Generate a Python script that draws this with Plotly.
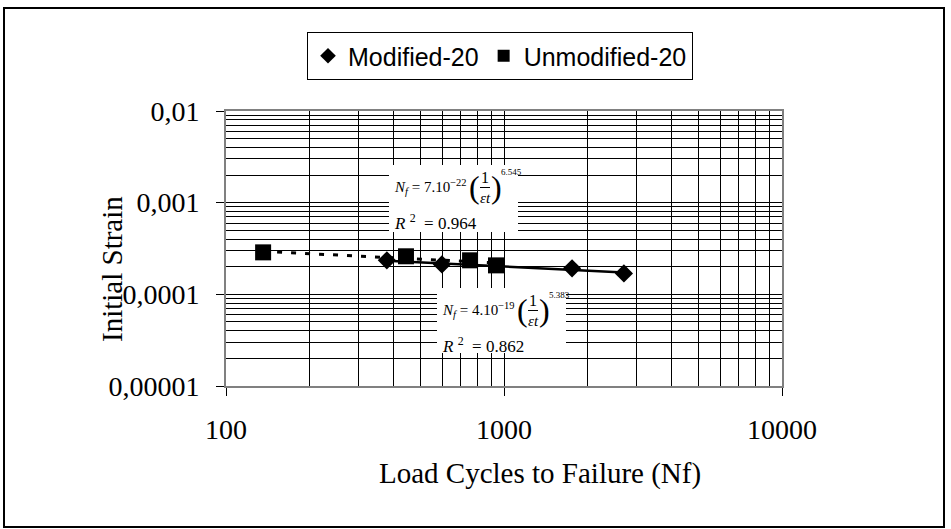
import numpy as np
import plotly.graph_objects as go

# ---- data ----
mod_cycles = [379, 598, 1757, 2700]
mod_strain = [2.35e-4, 2.12e-4, 1.92e-4, 1.69e-4]
unmod_cycles = [136, 444, 755, 936]
unmod_strain = [2.87e-4, 2.60e-4, 2.35e-4, 2.07e-4]
series_names = ["Modified-20", "Unmodified-20"]
x_tickvals = [100, 1000, 10000]
x_ticktext = ["100", "1000", "10000"]
y_tickvals = [1e-5, 1e-4, 1e-3, 1e-2]
y_ticktext = ["0,00001", "0,0001", "0,001", "0,01"]
eq_mod = ("7.10", "−22", "6.545", "0.964")
eq_unmod = ("4.10", "−19", "5.383", "0.862")

# ---- geometry ----
W, H = 951, 529
L, R, T, B = 226, 782, 111, 386


def px(x):
    return (x - L) / (R - L)


def py(y):
    return (B - y) / (B - T)


def power_fit(xs, ys):
    lx = np.log10(xs)
    ly = np.log10(ys)
    b, a = np.polyfit(lx, ly, 1)
    xe = np.array([min(xs), max(xs)], dtype=float)
    return xe, 10 ** (a + b * np.log10(xe))


fig = go.Figure()

fx, fy = power_fit(unmod_cycles, unmod_strain)
fig.add_trace(go.Scatter(x=fx, y=fy, mode="lines", showlegend=False,
                         line=dict(color="black", width=3, dash="5px,9px")))
fx, fy = power_fit(mod_cycles, mod_strain)
fig.add_trace(go.Scatter(x=fx, y=fy, mode="lines", showlegend=False,
                         line=dict(color="black", width=2.5)))

fig.add_trace(go.Scatter(x=mod_cycles, y=mod_strain, mode="markers", name=series_names[0],
                         marker=dict(symbol="diamond", size=14, color="black")))
fig.add_trace(go.Scatter(x=unmod_cycles, y=unmod_strain, mode="markers", name=series_names[1],
                         marker=dict(symbol="square", size=16, color="black")))

minor_x = [m * 10 ** e for e in range(2, 4) for m in range(2, 10)]
minor_y = [m * 10 ** e for e in range(-5, -2) for m in range(2, 10)]

serif = "Liberation Serif"
axis_common = dict(
    type="log", showgrid=True, gridcolor="black", gridwidth=1,
    showline=True, linecolor="#808080", linewidth=2, mirror=True,
    ticks="outside", ticklen=8, tickcolor="black", tickwidth=1,
    tickfont=dict(family=serif, size=28, color="black"), zeroline=False,
    automargin=False,
)
fig.update_xaxes(range=[2, 4], tickvals=x_tickvals, ticktext=x_ticktext,
                 minor=dict(tickvals=minor_x, showgrid=True, gridcolor="black", gridwidth=1, ticks=""),
                 ticklabelstandoff=9, **axis_common)
fig.update_yaxes(range=[-5, -2], tickvals=y_tickvals, ticktext=y_ticktext,
                 minor=dict(tickvals=minor_y, showgrid=True, gridcolor="black", gridwidth=1, ticks=""),
                 ticklabelstandoff=11, **axis_common)

shapes = []
annotations = []

# outer chart frame
shapes.append(dict(type="rect", xref="paper", yref="paper",
                   x0=px(4), x1=px(944), y0=py(527), y1=py(8),
                   line=dict(color="black", width=2), fillcolor="rgba(0,0,0,0)", layer="above"))

# axis titles
annotations.append(dict(text="Initial Strain", xref="paper", yref="paper",
                        x=px(112), y=py(269), textangle=-90, showarrow=False,
                        font=dict(family=serif, size=29, color="black"),
                        xanchor="center", yanchor="middle"))
annotations.append(dict(text="Load Cycles to Failure (Nf)", xref="paper", yref="paper",
                        x=px(540), y=py(473), showarrow=False,
                        font=dict(family=serif, size=29, color="black"),
                        xanchor="center", yanchor="middle"))


def box(x0, y0, w, h, color):
    annotations.append(dict(text=" ", xref="paper", yref="paper",
                            x=px(x0), y=py(y0), xanchor="left", yanchor="top",
                            width=w, height=h, bgcolor=color, bordercolor=color,
                            borderpad=0, borderwidth=0, showarrow=False,
                            font=dict(size=1)))


def equation(box_l, box_t, box_r, box_b, vals):
    coef, expo, power, r2 = vals

    def ann(text, x, y, font, xanchor="left"):
        annotations.append(dict(text=text, xref="paper", yref="paper", x=px(x), y=py(y),
                                showarrow=False, font=font, xanchor=xanchor, yanchor="middle"))

    # white label box hiding the grid
    box(box_l, box_t, box_r - box_l, box_b - box_t, "white")
    nx = box_l + 3
    ly = box_t + 22
    f = dict(family=serif, size=15, color="black")

    ann("<i>N</i><sub><i>f</i></sub> = %s<sup>%s</sup>" % (coef, expo), nx, ly, f)
    ann("(", nx + 82, ly, dict(family=serif, size=32, color="black"), "center")
    ann("1", nx + 93, ly - 10, dict(family=serif, size=16, color="black"), "center")
    box(nx + 88, ly, 10, 1, "black")
    ann("<i>εt</i>", nx + 93, ly + 11, f, "center")
    ann(")", nx + 104, ly, dict(family=serif, size=32, color="black"), "center")
    ann(power, nx + 119, ly - 15, dict(family=serif, size=9, color="black"), "center")
    ann("<i>R</i> <sup>2</sup>  = %s" % r2, nx, ly + 35, dict(family=serif, size=17, color="black"))


equation(389, 165, 518, 232, eq_mod)
equation(437, 288, 566, 353, eq_unmod)

fig.update_layout(
    width=W, height=H,
    margin=dict(l=L, r=W - R, t=T, b=H - B),
    paper_bgcolor="white", plot_bgcolor="white",
    showlegend=True,
    legend=dict(orientation="h", x=px(307), y=py(32), xanchor="left", yanchor="top",
                bordercolor="black", borderwidth=1, bgcolor="white",
                font=dict(family="Liberation Sans", size=25, color="black"),
                itemsizing="constant", tracegroupgap=0),
    shapes=shapes, annotations=annotations,
)

fig.write_html("out.html", config={"displayModeBar": False},
               post_script="document.body.style.margin='0px';")
